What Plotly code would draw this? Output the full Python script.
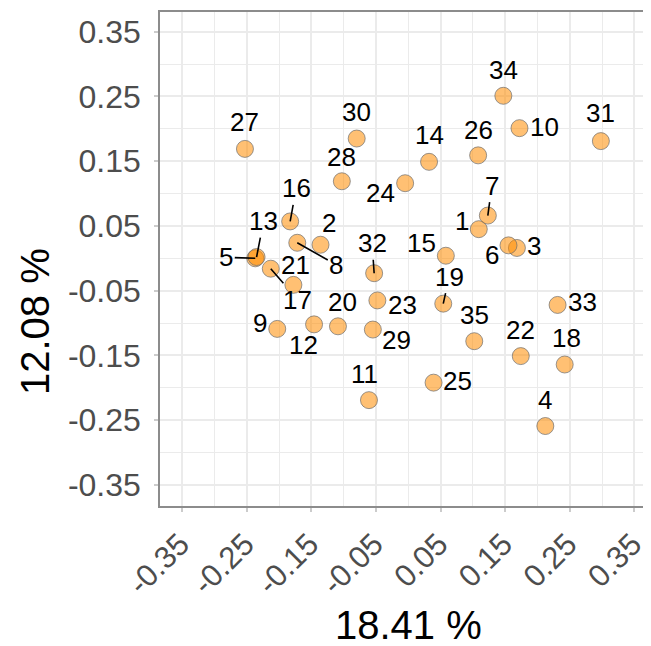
import plotly.graph_objects as go

labels = [str(i) for i in range(1, 36)]
pc1 = [0.109, -0.136, 0.168, 0.212, -0.237, 0.155, 0.123, -0.172, -0.203, 0.172,
       -0.061, -0.146, -0.235, 0.032, 0.058, -0.183, -0.213, 0.242, 0.054, -0.109,
       -0.178, 0.174, -0.048, -0.005, 0.039, 0.108, -0.253, -0.103, -0.055, -0.080,
       0.298, -0.053, 0.231, 0.147, 0.102]
pc2 = [0.045, 0.021, 0.016, -0.259, 0.000, 0.020, 0.066, 0.024, -0.109, 0.201,
       -0.219, -0.102, 0.002, 0.149, 0.004, 0.057, -0.016, -0.164, -0.070, -0.105,
       -0.041, -0.151, -0.065, 0.116, -0.192, 0.159, 0.169, 0.119, -0.110, 0.185,
       0.181, -0.023, -0.072, 0.251, -0.128]
x_title = "18.41 %"
y_title = "12.08 %"
major_ticks = [-0.35, -0.25, -0.15, -0.05, 0.05, 0.15, 0.25, 0.35]
major_text = ["-0.35", "-0.25", "-0.15", "-0.05", "0.05", "0.15", "0.25", "0.35"]
minor_ticks = [-0.3, -0.2, -0.1, 0.0, 0.1, 0.2, 0.3]

# label placement (screen pixel offsets dx, dy; dy positive = down), and whether a leader segment is drawn
label_offsets = {
    "1": (-17, -8, False), "2": (8, -22, False), "3": (17, -2, False), "4": (0, -26, False),
    "5": (-29, -1, True), "6": (-17, 10, False), "7": (4, -30, True), "8": (39, 22, True),
    "9": (-17, -6, False), "10": (25, -1, False), "11": (-4, -26, False), "12": (-11, 21, False),
    "13": (7, -36, True), "14": (0, -27, False), "15": (-24, -13, False), "16": (6, -33, True),
    "17": (27, 31, True), "18": (2, -27, False), "19": (6, -27, True), "20": (5, -24, False),
    "21": (2, -20, False), "22": (0, -26, False), "23": (25, 5, False), "24": (-25, 10, False),
    "25": (24, -2, False), "26": (0, -25, False), "27": (0, -27, False), "28": (0, -24, False),
    "29": (24, 10, False), "30": (0, -27, False), "31": (0, -28, False), "32": (-2, -30, True),
    "33": (25, -3, False), "34": (0, -26, False), "35": (0, -26, False),
}

FONT = "Liberation Sans, Arial, sans-serif"
PAGE_OFF = 8                      # default body margin of the html page
PAGE_W, PAGE_H = 651, 646
W, H = PAGE_W - PAGE_OFF, PAGE_H - PAGE_OFF
# plot area in page pixels
PX0, PX1, PY0, PY1 = 160, 651, 12, 506
L, R, T, B = PX0 - PAGE_OFF, PAGE_W - PX1, PY0 - PAGE_OFF, PAGE_H - PY1
PW, PH = PX1 - PX0, PY1 - PY0

fig = go.Figure()
fig.add_trace(go.Scatter(
    x=pc1, y=pc2, mode="markers", text=labels,
    marker=dict(size=17, color="rgba(255,140,0,0.55)",
                line=dict(color="rgba(110,110,110,0.7)", width=1)),
    showlegend=False, hoverinfo="text",
))

annotations = []
for lab, xv, yv in zip(labels, pc1, pc2):
    dx, dy, seg = label_offsets[lab]
    if seg:
        annotations.append(dict(
            x=xv, y=yv, xref="x", yref="y", text=lab, showarrow=True,
            ax=dx, ay=dy, arrowhead=0, arrowwidth=1.6, arrowcolor="black",
            standoff=0, startstandoff=0,
            font=dict(family=FONT, size=26, color="black"),
        ))
    else:
        annotations.append(dict(
            x=xv, y=yv, xref="x", yref="y", text=lab, showarrow=False,
            xshift=dx, yshift=-dy, xanchor="center", yanchor="middle",
            font=dict(family=FONT, size=26, color="black"),
        ))

# axis titles placed in paper coordinates (page-pixel targets)
annotations.append(dict(
    text=x_title, xref="paper", yref="paper", x=(408 - PX0) / PW, y=(PY1 - 625) / PH,
    xanchor="center", yanchor="middle", showarrow=False,
    font=dict(family=FONT, size=40, color="black")))
annotations.append(dict(
    text=y_title, xref="paper", yref="paper", x=(35 - PX0) / PW, y=(PY1 - 322) / PH,
    xanchor="center", yanchor="middle", showarrow=False, textangle=-90,
    font=dict(family=FONT, size=40, color="black")))

axis_common = dict(
    tickmode="array", tickvals=major_ticks, ticktext=major_text,
    showgrid=True, gridcolor="#EBEBEB", gridwidth=2,
    zeroline=False, showline=True, linecolor="#8C8C8C", linewidth=1.5,
    ticks="outside", ticklen=4, tickcolor="#CCCCCC", tickwidth=1.5,
    tickfont=dict(family=FONT, size=32, color="#4D4D4D"),
    minor=dict(tickvals=minor_ticks, showgrid=True, gridcolor="#EBEBEB", gridwidth=1, ticks=""),
    automargin=False, ticklabeloverflow="allow",
)

fig.update_layout(
    width=W, height=H,
    margin=dict(l=L, r=R, t=T, b=B),
    plot_bgcolor="white", paper_bgcolor="white",
    annotations=annotations,
    xaxis=dict(axis_common, range=[-0.3845, 0.3756], tickangle=-45, mirror=True,
               ticklabelstandoff=2, ticklabelshift=-2,
               tickfont=dict(family=FONT, size=31, color="#4D4D4D")),
    yaxis=dict(axis_common, range=[-0.3825, 0.3804], ticklabelstandoff=7),
)

fig.write_html("out.html")
